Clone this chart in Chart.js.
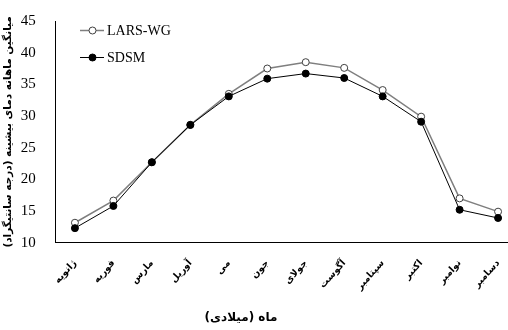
<!DOCTYPE html>
<html>
<head>
<meta charset="utf-8">
<script src="https://cdn.jsdelivr.net/npm/chart.js@4"></script>
<style>
  html, body { margin: 0; padding: 0; background: #fff; overflow: hidden; }
  #wrap { position: absolute; left: 0; top: 0; width: 524px; height: 330px; }
</style>
</head>
<body>
<div id="wrap"><canvas id="c" width="524" height="330"></canvas></div>
<script>
// Monthly mean maximum temperature (°C)
const months = ['ژانویه', 'فوریه', 'مارس', 'آوریل', 'می', 'جون', 'جولای', 'آگوست', 'سپتامبر', 'اکتبر', 'نوامبر', 'دسامبر'];
const larsWG = [13.15, 16.65, 22.7, 28.6, 33.5, 37.5, 38.5, 37.6, 34.1, 29.9, 17.0, 14.9];
const sdsm   = [12.3, 15.8, 22.7, 28.6, 33.1, 35.9, 36.7, 36.0, 33.1, 29.1, 15.2, 13.9];
const yTicks = [10, 15, 20, 25, 30, 35, 40, 45];

const serif = "'Liberation Serif', 'Times New Roman', serif";
const persian = "'DejaVu Sans', sans-serif";

// Legend drawn as line + marker samples, placed inside the plot area
const lineLegend = {
  id: 'lineLegend',
  afterDraw(chart) {
    const ctx = chart.ctx;
    const rows = [{ ds: 0, y: 30.5 }, { ds: 1, y: 57.5 }];
    ctx.save();
    rows.forEach(r => {
      const d = chart.data.datasets[r.ds];
      ctx.strokeStyle = d.borderColor;
      ctx.lineWidth = d.borderWidth;
      ctx.beginPath();
      ctx.moveTo(80, r.y);
      ctx.lineTo(104, r.y);
      ctx.stroke();
      ctx.beginPath();
      ctx.arc(92.5, r.y, d.pointRadius, 0, Math.PI * 2);
      ctx.fillStyle = d.pointBackgroundColor;
      ctx.fill();
      ctx.lineWidth = d.pointBorderWidth;
      ctx.strokeStyle = d.pointBorderColor;
      ctx.stroke();
      ctx.fillStyle = '#000';
      ctx.font = '14px ' + serif;
      ctx.textAlign = 'left';
      ctx.textBaseline = 'middle';
      ctx.fillText(d.label, 107, r.y + 0.5);
    });
    // x axis title
    ctx.font = 'bold 12px ' + persian;
    ctx.textAlign = 'center';
    ctx.textBaseline = 'middle';
    ctx.fillText('ماه (میلادی)', 241, 318);
    ctx.restore();
  }
};

new Chart(document.getElementById('c'), {
  type: 'line',
  data: {
    labels: months,
    datasets: [
      {
        label: 'LARS-WG',
        data: larsWG,
        borderColor: '#7f7f7f',
        borderWidth: 1.5,
        pointRadius: 3.5,
        pointBackgroundColor: '#ffffff',
        pointBorderColor: '#404040',
        pointBorderWidth: 1,
        tension: 0,
        order: 1
      },
      {
        label: 'SDSM',
        data: sdsm,
        borderColor: '#000000',
        borderWidth: 1,
        pointRadius: 3.5,
        pointBackgroundColor: '#000000',
        pointBorderColor: '#000000',
        pointBorderWidth: 1,
        tension: 0,
        order: 0
      }
    ]
  },
  options: {
    responsive: false,
    animation: false,
    events: [],
    layout: { padding: { top: 13, right: 6.7, left: 0, bottom: 0 } },
    plugins: {
      legend: { display: false },
      tooltip: { enabled: false }
    },
    scales: {
      x: {
        type: 'category',
        offset: true,
        grid: { display: false },
        border: { display: true, color: '#000', width: 1 },
        ticks: {
          color: '#000',
          font: { family: persian, size: 9.5, weight: 'bold' },
          minRotation: 48,
          maxRotation: 48,
          padding: 7,
          autoSkip: false
        },
        afterFit(scale) { scale.height = 87.3; }
      },
      y: {
        min: 10,
        max: 45,
        afterBuildTicks(scale) { scale.ticks = yTicks.map(v => ({ value: v })); },
        grid: { display: false },
        border: { display: true, color: '#000', width: 1 },
        ticks: {
          color: '#000',
          font: { family: serif, size: 15 },
          padding: 12
        },
        title: {
          display: true,
          text: 'میانگین ماهانه دمای بیشینه (درجه سانتیگراد)',
          color: '#000',
          font: { family: persian, size: 10.5, weight: 'bold' },
          padding: { top: 2, bottom: 0 }
        },
        afterFit(scale) { scale.width = 55.7; }
      }
    }
  },
  plugins: [lineLegend]
});
</script>
</body>
</html>
